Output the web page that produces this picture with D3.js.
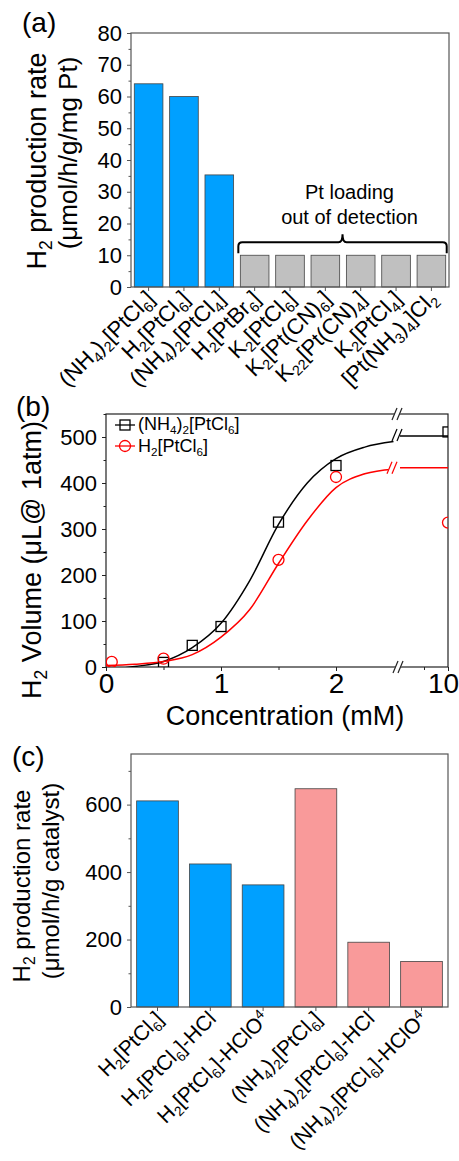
<!DOCTYPE html>
<html>
<head>
<meta charset="utf-8">
<script src="https://cdn.jsdelivr.net/npm/d3@7"></script>
<style>
  body { margin: 0; background: #fff; }
  svg text { font-family: Arial, "Liberation Sans", sans-serif; fill: #000; }
</style>
</head>
<body>
<svg id="fig" width="459" height="1161"></svg>
<script>
// ---------- panel (a) data
const aCats = ["(NH_4)_2[PtCl_6]", "H_2[PtCl_6]", "(NH_4)_2[PtCl_4]", "H_2[PtBr_6]", "K_2[PtCl_6]",
               "K_2[Pt(CN)_6]", "K_{22}[Pt(CN)_4]", "K_2[PtCl_4]", "[Pt(NH_3)_4]Cl_2"];
const aRates = [64, 60, 35.3, 10, 10, 10, 10, 10, 10];
const aDetected = [true, true, true, false, false, false, false, false, false];
const aTicks = [0, 10, 20, 30, 40, 50, 60, 70, 80];
const aNote = ["Pt loading", "out of detection"];

// ---------- panel (b) data
const concNH4 = [0.5, 0.75, 1.0, 1.5, 2.0, 10];
const volNH4 = [10, 47, 88, 315, 438, 511];
const concH2 = [0.05, 0.5, 1.5, 2.0, 10];
const volH2 = [11, 18, 233, 413, 314];
// fitted curves
const fitConc = [0, 0.25, 0.5, 0.75, 1.0, 1.25, 1.5, 1.75, 2.0, 2.25, 2.5];
const fitNH4 = [-6, 1, 12, 42, 95, 188, 310, 400, 453, 478, 490];
const fitH2 = [3, 6, 12, 27, 65, 125, 225, 318, 390, 420, 430];
const fitRightConc = [8, 10];
const fitRightNH4 = [502, 502];
const fitRightH2 = [433, 433];
const bYTicks = [0, 100, 200, 300, 400, 500];
const bXTicksLeft = [0, 1, 2];
const bXTicksRight = [10];

// ---------- panel (c) data
const cCats = ["H_2[PtCl_6]", "H_2[PtCl_6]-HCl", "H_2[PtCl_6]-HClO^4",
               "(NH_4)_2[PtCl_6]", "(NH_4)_2[PtCl_6]-HCl", "(NH_4)_2[PtCl_6]-HClO^4"];
const cRates = [611, 424, 362, 647, 192, 135];
const cGroup = ["H2", "H2", "H2", "NH4", "NH4", "NH4"];
const cTicks = [0, 200, 400, 600];

const blue = "#00A0FF", gray = "#C0C0C0", pink = "#F99A9A";
const svg = d3.select("#fig");

// text with _sub and ^sup parts
function richText(sel, str, fs) {
  const parts = [];
  let i = 0, buf = "";
  while (i < str.length) {
    const ch = str[i];
    if (ch === "_" || ch === "^") {
      if (buf) { parts.push({ t: buf, m: 0 }); buf = ""; }
      let t;
      if (str[i + 1] === "{") { const j = str.indexOf("}", i); t = str.slice(i + 2, j); i = j + 1; }
      else { t = str[i + 1]; i += 2; }
      parts.push({ t: t, m: ch === "_" ? 1 : -1 });
    } else { buf += ch; i++; }
  }
  if (buf) parts.push({ t: buf, m: 0 });
  let shift = 0;
  parts.forEach(p => {
    const target = p.m === 1 ? fs * 0.22 : p.m === -1 ? -fs * 0.35 : 0;
    sel.append("tspan").attr("dy", target - shift)
      .attr("font-size", p.m ? fs * 0.65 : fs).text(p.t);
    shift = target;
  });
}

function styleAxis(g, color) {
  g.select(".domain").remove();
  g.selectAll("line").attr("stroke", color);
  g.selectAll("text").attr("fill", "#000");
}

function rotatedLabels(g, scale, labels, yBase, fs) {
  labels.forEach(l => {
    const cx = scale(l) + scale.bandwidth() / 2;
    const t = g.append("text")
      .attr("text-anchor", "end")
      .attr("transform", `translate(${cx + 7},${yBase + 13}) rotate(-45)`);
    richText(t, l, fs);
  });
}

function yTitle(g, lines, xs, ys, fss) {
  lines.forEach((l, i) => {
    const t = g.append("text").attr("text-anchor", "middle")
      .attr("transform", `translate(${xs[i]},${ys[i]}) rotate(-90)`);
    richText(t, l, fss[i]);
  });
}

// ================= panel (a)
{
  const x0 = 131, x1 = 449, yT = 33, yB = 287, ac = "#555";
  const g = svg.append("g");
  const x = d3.scaleBand().domain(aCats).range([x0, x1]).paddingInner(0.19).paddingOuter(0.093);
  const y = d3.scaleLinear().domain([0, 80]).range([yB, yT]);

  g.selectAll("rect.bar").data(aCats).join("rect")
    .attr("class", "bar")
    .attr("x", d => x(d)).attr("width", x.bandwidth())
    .attr("y", (d, i) => y(aRates[i])).attr("height", (d, i) => yB - y(aRates[i]))
    .attr("fill", (d, i) => aDetected[i] ? blue : gray)
    .attr("stroke", "#444").attr("stroke-width", 0.8);

  const yAx = g.append("g").attr("transform", `translate(${x0},0)`)
    .call(d3.axisLeft(y).tickValues(aTicks).tickSize(4).tickPadding(5));
  yAx.selectAll("text").attr("font-size", 22);
  styleAxis(yAx, ac);
  const yMin = g.append("g").attr("transform", `translate(${x0},0)`)
    .call(d3.axisLeft(y).tickValues(aTicks.slice(1).map(v => v - 5)).tickSize(2.5).tickFormat(""));
  styleAxis(yMin, ac);
  const xAx = g.append("g").attr("transform", `translate(0,${yB})`)
    .call(d3.axisBottom(x).tickSize(4).tickFormat(""));
  styleAxis(xAx, ac);

  g.append("rect").attr("x", x0).attr("y", yT).attr("width", x1 - x0).attr("height", yB - yT)
    .attr("fill", "none").attr("stroke", ac).attr("stroke-width", 1.2);

  rotatedLabels(g, x, aCats, yB, 22);

  // brace over the undetected bars
  const bx0 = x(aCats[3]) - 2, bx1 = x(aCats[8]) + x.bandwidth() + 1;
  const bm = (bx0 + bx1) / 2, by = y(10) - 13;
  g.append("path")
    .attr("d", `M${bx0},${by + 11} L${bx0},${by + 4} Q${bx0},${by} ${bx0 + 4},${by}
               L${bm - 4},${by} Q${bm},${by} ${bm},${by - 8} Q${bm},${by} ${bm + 4},${by}
               L${bx1 - 4},${by} Q${bx1},${by} ${bx1},${by + 4} L${bx1},${by + 11}`)
    .attr("fill", "none").attr("stroke", "#000").attr("stroke-width", 2);
  aNote.forEach((s, i) => {
    g.append("text").attr("x", bm + 7).attr("y", 199 + i * 25)
      .attr("text-anchor", "middle").attr("font-size", 20).text(s);
  });

  yTitle(g, ["H_2 production rate", "(μmol/h/g/mg Pt)"], [46, 77], [161, 153], [27, 26]);
  g.append("text").attr("x", 22).attr("y", 32).attr("font-size", 28).text("(a)");
}

// ================= panel (b)
{
  const x0 = 106, x1 = 448, yT = 414, yB = 667, ac = "#222";
  const g = svg.append("g");
  const xL = d3.scaleLinear().domain([0, 2.5]).range([x0, 393.5]);
  const xR = d3.scaleLinear().domain([8, 10]).range([400, x1]);
  const y = d3.scaleLinear().domain([0, 550]).range([yB, yT]);

  svg.append("defs").append("clipPath").attr("id", "clipB")
    .append("rect").attr("x", x0).attr("y", yT).attr("width", x1 - x0).attr("height", yB - yT);

  const yAx = g.append("g").attr("transform", `translate(${x0},0)`)
    .call(d3.axisLeft(y).tickValues(bYTicks).tickSize(4).tickPadding(5));
  yAx.selectAll("text").attr("font-size", 22);
  styleAxis(yAx, ac);
  const yMin = g.append("g").attr("transform", `translate(${x0},0)`)
    .call(d3.axisLeft(y).tickValues(bYTicks.map(v => v + 50)).tickSize(2.5).tickFormat(""));
  styleAxis(yMin, ac);

  const xAxL = g.append("g").attr("transform", `translate(0,${yB})`)
    .call(d3.axisBottom(xL).tickValues(bXTicksLeft).tickSize(4).tickPadding(2).tickFormat(d3.format("d")));
  xAxL.selectAll("text").attr("font-size", 28);
  styleAxis(xAxL, ac);
  const xMinL = g.append("g").attr("transform", `translate(0,${yB})`)
    .call(d3.axisBottom(xL).tickValues([0.5, 1.5]).tickSize(3).tickFormat(""));
  styleAxis(xMinL, ac);
  const xAxR = g.append("g").attr("transform", `translate(0,${yB})`)
    .call(d3.axisBottom(xR).tickValues(bXTicksRight).tickSize(4).tickPadding(2).tickFormat(d3.format("d")));
  xAxR.selectAll("text").attr("font-size", 28).attr("dx", -5);
  styleAxis(xAxR, ac);
  const xMinR = g.append("g").attr("transform", `translate(0,${yB})`)
    .call(d3.axisBottom(xR).tickValues([9]).tickSize(3).tickFormat(""));
  styleAxis(xMinR, ac);

  // frame
  g.append("rect").attr("x", x0).attr("y", yT).attr("width", x1 - x0).attr("height", yB - yT)
    .attr("fill", "none").attr("stroke", ac).attr("stroke-width", 1.2);

  function breakMark(px, py, color) {
    g.append("path").attr("d", `M${px - 5},${py + 5} L${px - 1},${py - 5} L${px + 5},${py - 5} L${px + 1},${py + 5} Z`)
      .attr("fill", "#fff");
    [-2.5, 2.5].forEach(d => {
      g.append("line").attr("x1", px + d - 2.5).attr("y1", py + 6).attr("x2", px + d + 2.5).attr("y2", py - 6)
        .attr("stroke", color).attr("stroke-width", 1.2);
    });
  }

  const plot = g.append("g").attr("clip-path", "url(#clipB)");
  const lineL = d3.line().x(d => xL(d[0])).y(d => y(d[1])).curve(d3.curveMonotoneX);
  const lineR = d3.line().x(d => xR(d[0])).y(d => y(d[1]));
  plot.append("path").datum(d3.zip(fitConc, fitNH4)).attr("d", lineL)
    .attr("fill", "none").attr("stroke", "#000").attr("stroke-width", 1.5);
  plot.append("path").datum(d3.zip(fitRightConc, fitRightNH4)).attr("d", lineR)
    .attr("fill", "none").attr("stroke", "#000").attr("stroke-width", 1.5);
  plot.append("path").datum(d3.zip(fitConc, fitH2)).attr("d", lineL)
    .attr("fill", "none").attr("stroke", "#f00").attr("stroke-width", 1.5);
  plot.append("path").datum(d3.zip(fitRightConc, fitRightH2)).attr("d", lineR)
    .attr("fill", "none").attr("stroke", "#f00").attr("stroke-width", 1.5);

  const px = c => c > 5 ? xR(c) : xL(c);
  plot.selectAll("rect.sq").data(d3.zip(concNH4, volNH4)).join("rect").attr("class", "sq")
    .attr("x", d => px(d[0]) - 5).attr("y", d => y(d[1]) - 5).attr("width", 10).attr("height", 10)
    .attr("fill", "none").attr("stroke", "#000").attr("stroke-width", 1.3);
  plot.selectAll("circle.ci").data(d3.zip(concH2, volH2)).join("circle").attr("class", "ci")
    .attr("cx", d => px(d[0])).attr("cy", d => y(d[1])).attr("r", 5.5)
    .attr("fill", "none").attr("stroke", "#f00").attr("stroke-width", 1.3);

  breakMark(397, yT, ac);
  breakMark(398, yB, ac);
  breakMark(397, y(fitRightNH4[0]) - 1, "#000");
  breakMark(392, y(fitRightH2[0]), "#f00");

  // legend
  const lg = g.append("g");
  lg.append("line").attr("x1", 115).attr("x2", 135).attr("y1", 425).attr("y2", 425).attr("stroke", "#000").attr("stroke-width", 1.3);
  lg.append("rect").attr("x", 120).attr("y", 420).attr("width", 10).attr("height", 10)
    .attr("fill", "none").attr("stroke", "#000").attr("stroke-width", 1.3);
  lg.append("line").attr("x1", 115).attr("x2", 135).attr("y1", 446).attr("y2", 446).attr("stroke", "#f00").attr("stroke-width", 1.3);
  lg.append("circle").attr("cx", 125).attr("cy", 446).attr("r", 5.5)
    .attr("fill", "none").attr("stroke", "#f00").attr("stroke-width", 1.3);
  richText(lg.append("text").attr("x", 138).attr("y", 430), "(NH_4)_2[PtCl_6]", 18);
  richText(lg.append("text").attr("x", 138).attr("y", 452), "H_2[PtCl_6]", 18);

  yTitle(g, ["H_2 Volume (μL@ 1atm)"], [41], [560], [27]);
  g.append("text").attr("x", 285).attr("y", 725).attr("text-anchor", "middle")
    .attr("font-size", 27).text("Concentration (mM)");
  g.append("text").attr("x", 16).attr("y", 416).attr("font-size", 28).text("(b)");
}

// ================= panel (c)
{
  const x0 = 131, x1 = 448, yT = 754, yB = 1007, ac = "#555";
  const g = svg.append("g");
  const x = d3.scaleBand().domain(cCats).range([x0, x1]).paddingInner(0.21).paddingOuter(0.107);
  const y = d3.scaleLinear().domain([0, 750]).range([yB, yT]);

  g.selectAll("rect.bar").data(cCats).join("rect")
    .attr("class", "bar")
    .attr("x", d => x(d)).attr("width", x.bandwidth())
    .attr("y", (d, i) => y(cRates[i])).attr("height", (d, i) => yB - y(cRates[i]))
    .attr("fill", (d, i) => cGroup[i] === "H2" ? blue : pink)
    .attr("stroke", "#444").attr("stroke-width", 0.8);

  const yAx = g.append("g").attr("transform", `translate(${x0},0)`)
    .call(d3.axisLeft(y).tickValues(cTicks).tickSize(4).tickPadding(5));
  yAx.selectAll("text").attr("font-size", 22);
  styleAxis(yAx, ac);
  const yMin = g.append("g").attr("transform", `translate(${x0},0)`)
    .call(d3.axisLeft(y).tickValues(cTicks.map(v => v + 100)).tickSize(2.5).tickFormat(""));
  styleAxis(yMin, ac);
  const xAx = g.append("g").attr("transform", `translate(0,${yB})`)
    .call(d3.axisBottom(x).tickSize(4).tickFormat(""));
  styleAxis(xAx, ac);

  g.append("rect").attr("x", x0).attr("y", yT).attr("width", x1 - x0).attr("height", yB - yT)
    .attr("fill", "none").attr("stroke", ac).attr("stroke-width", 1.2);

  rotatedLabels(g, x, cCats, yB, 21);

  yTitle(g, ["H_2 production rate", "(μmol/h/g catalyst)"], [30, 59], [886, 881], [24, 24]);
  g.append("text").attr("x", 12).attr("y", 766).attr("font-size", 28).text("(c)");
}
</script>
</body>
</html>
